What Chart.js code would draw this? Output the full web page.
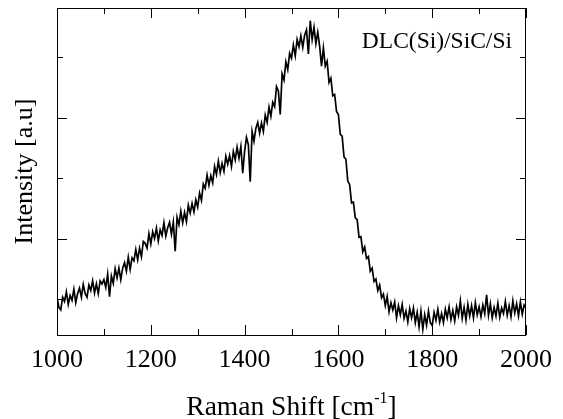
<!DOCTYPE html>
<html><head><meta charset="utf-8">
<script src="https://cdn.jsdelivr.net/npm/chart.js@4/dist/chart.umd.min.js"></script>
<style>html,body{margin:0;padding:0;background:#fff}#wrap{width:563px;height:419px}</style>
</head><body><div id="wrap"><canvas id="c" width="563" height="419"></canvas></div>
<script>
const shiftStart = 1000;
const shiftStep = 4;
const intensity = [
  1.03, 0.86, 0.82, 1.03, 0.96, 1.12, 0.91, 1.06, 0.98, 1.16, 0.94, 1.09, 1.18, 1.03, 1.24, 1.09, 1.03, 1.23, 1.14, 1.30, 1.10, 1.25, 1.09, 1.30, 1.25,
  1.32, 1.19, 1.41, 1.04, 1.38, 1.26, 1.50, 1.35, 1.51, 1.32, 1.51, 1.60, 1.46, 1.69, 1.49, 1.68, 1.63, 1.82, 1.65, 1.84, 1.70, 1.95, 1.92, 1.84, 2.08,
  1.91, 2.11, 2.00, 2.17, 1.96, 2.14, 2.05, 2.26, 2.04, 2.18, 2.27, 2.07, 2.27, 1.79, 2.35, 2.23, 2.45, 2.26, 2.43, 2.28, 2.55, 2.42, 2.58, 2.44, 2.64,
  2.52, 2.75, 2.63, 2.90, 2.83, 3.05, 2.88, 3.04, 2.92, 3.19, 3.06, 3.28, 3.09, 3.24, 3.11, 3.36, 3.23, 3.37, 3.19, 3.44, 3.30, 3.51, 3.33, 3.52, 3.08,
  3.44, 3.67, 3.55, 2.94, 3.77, 3.61, 3.82, 3.92, 3.74, 3.91, 3.77, 4.04, 3.92, 4.17, 4.02, 4.25, 4.18, 4.51, 4.44, 4.05, 4.72, 4.62, 4.92, 4.79, 5.06,
  4.98, 5.20, 5.02, 5.29, 5.17, 5.35, 5.16, 5.36, 5.45, 5.05, 5.60, 5.29, 5.49, 5.22, 5.41, 5.18, 4.85, 5.15, 4.85, 4.93, 4.58, 4.65, 4.36, 4.38, 4.10,
  4.05, 3.72, 3.69, 3.35, 3.31, 2.95, 2.89, 2.59, 2.60, 2.34, 2.31, 2.02, 2.03, 1.78, 1.86, 1.67, 1.70, 1.46, 1.51, 1.29, 1.33, 1.14, 1.23, 1.02, 1.08,
  0.89, 1.04, 0.79, 0.94, 0.82, 0.95, 0.69, 0.89, 0.74, 0.91, 0.68, 0.80, 0.62, 0.84, 0.69, 0.85, 0.61, 0.78, 0.54, 0.80, 0.50, 0.74, 0.57, 0.80, 0.61,
  0.56, 0.78, 0.65, 0.83, 0.62, 0.76, 0.61, 0.83, 0.69, 0.87, 0.66, 0.81, 0.64, 0.87, 0.73, 0.97, 0.68, 0.86, 0.65, 0.91, 0.72, 0.89, 0.69, 0.94, 0.74,
  0.87, 0.71, 0.90, 0.76, 1.07, 0.73, 0.92, 0.69, 0.86, 0.72, 0.93, 0.70, 0.85, 0.76, 0.96, 0.73, 0.89, 0.71, 0.97, 0.77, 0.92, 0.72, 0.95, 0.75, 0.90, 0.85
];
const xMajorTicks = [1000, 1200, 1400, 1600, 1800, 2000];
const xMinorTicks = [1100, 1300, 1500, 1700, 1900];
const yMajorTicks = [2, 4];
const yMinorTicks = [1, 3, 5];
const xRange = [1000, 2000];
const yRange = [0.405, 5.81];
const xTitleMain = 'Raman Shift [cm';
const xTitleSup = '-1';
const xTitleEnd = ']';
const yTitle = 'Intensity [a.u]';
const sampleLabel = 'DLC(Si)/SiC/Si';

const points = intensity.map((v, i) => ({x: shiftStart + i * shiftStep, y: v}));
const SERIF = "'Liberation Serif', 'Times New Roman', serif";

const framePlugin = {
  id: 'frame',
  afterDraw(chart) {
    const {ctx, chartArea: a, scales: {x, y}} = chart;
    ctx.save();
    ctx.strokeStyle = '#000';
    ctx.lineWidth = 1;
    ctx.strokeRect(a.left + 0.5, a.top + 0.5, a.right - a.left - 1, a.bottom - a.top);
    ctx.beginPath();
    const xt = (vals, len) => vals.forEach(v => {
      const px = Math.round(x.getPixelForValue(v)) + 0.5;
      ctx.moveTo(px, a.bottom); ctx.lineTo(px, a.bottom - len);
      ctx.moveTo(px, a.top); ctx.lineTo(px, a.top + len);
    });
    const yt = (vals, len) => vals.forEach(v => {
      const py = Math.round(y.getPixelForValue(v)) + 0.5;
      ctx.moveTo(a.left, py); ctx.lineTo(a.left + len, py);
      ctx.moveTo(a.right, py); ctx.lineTo(a.right - len, py);
    });
    xt(xMajorTicks, 10); xt(xMinorTicks, 6);
    yt(yMajorTicks, 10); yt(yMinorTicks, 6);
    ctx.stroke();

    // x axis title with superscript
    ctx.fillStyle = '#000';
    ctx.textBaseline = 'alphabetic';
    ctx.textAlign = 'left';
    const mainFont = '27.5px ' + SERIF, supFont = '16px ' + SERIF;
    ctx.font = mainFont; const w1 = ctx.measureText(xTitleMain).width; const w3 = ctx.measureText(xTitleEnd).width;
    ctx.font = supFont; const w2 = ctx.measureText(xTitleSup).width;
    const total = w1 + w2 + w3;
    const cx = (a.left + a.right) / 2;
    let sx = cx - total / 2;
    const base = 415;
    ctx.font = mainFont; ctx.fillText(xTitleMain, sx, base); sx += w1;
    ctx.font = supFont; ctx.fillText(xTitleSup, sx, base - 12); sx += w2;
    ctx.font = mainFont; ctx.fillText(xTitleEnd, sx, base);

    // sample label
    ctx.font = '23.5px ' + SERIF;
    ctx.textAlign = 'right';
    ctx.fillText(sampleLabel, 512, 48);
    ctx.restore();
  }
};

new Chart(document.getElementById('c'), {
  type: 'line',
  data: {datasets: [{data: points, borderColor: '#000', borderWidth: 1.7, pointRadius: 0, tension: 0, fill: false}]},
  options: {
    responsive: false, animation: false, devicePixelRatio: 1,
    layout: {padding: {top: 8, right: 37, left: 0, bottom: 0}},
    plugins: {legend: {display: false}, tooltip: {enabled: false}},
    scales: {
      x: {
        type: 'linear', min: xRange[0], max: xRange[1],
        grid: {display: false}, border: {display: false},
        ticks: {stepSize: 200, padding: 2, color: '#000', font: {family: SERIF, size: 26}, maxRotation: 0,
                callback: v => String(v)},
        afterFit: s => { s.height = 84; }
      },
      y: {
        type: 'linear', min: yRange[0], max: yRange[1],
        grid: {display: false}, border: {display: false},
        ticks: {display: false},
        title: {display: true, text: yTitle, color: '#000', font: {family: SERIF, size: 26}, padding: {top: 10, bottom: 0}},
        afterFit: s => { s.width = 57; }
      }
    }
  },
  plugins: [framePlugin]
});
</script></body></html>
